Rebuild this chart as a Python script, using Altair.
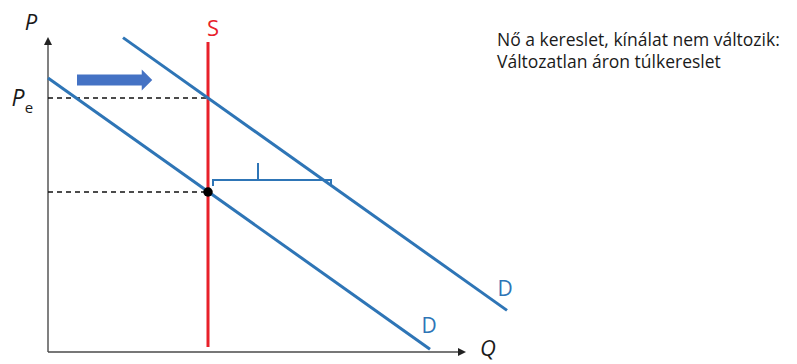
import altair as alt
import pandas as pd

# --- diagram values (quantity Q, price P) ---
supply_q = 4.0                     # vertical supply curve
supply_p = [0.125, 7.75]

demand_old_q = [0.0, 9.55]         # original demand
demand_old_p = [6.85, 0.07]
demand_new_q = [1.875, 11.475]     # shifted demand
demand_new_p = [7.86, 1.04]

price_e = 6.35                     # equilibrium price after the shift
price_old = 4.0                    # old price level (current point)

bracket_q = [4.125, 4.125, 7.075, 7.075]
bracket_p = [4.15, 4.3, 4.3, 4.15]
bracket_tick_q = 5.25
bracket_tick_p = [4.3, 4.725]

shift_arrow_q = [0.725, 2.35]
shift_arrow_p = 6.8
shift_head_q = 2.475

axis_top = 7.7
axis_right = 10.3

note_lines = ["Nő a kereslet, kínálat nem változik:", "Változatlan áron túlkereslet"]
note_p = [7.65, 7.1]
note_q = 11.225

BLUE = "#2E75B6"
RED = "#E8202A"
ARROW = "#4472C4"
AXIS = "#4a4a4a"
FONT = "Open Sans"

xs = alt.Scale(domain=[0, 10], range=[48, 448], nice=False, zero=False)
ys = alt.Scale(domain=[0, 10], range=[352, -48], nice=False, zero=False)


def X(f="q"):
    return alt.X(f"{f}:Q", scale=xs, axis=None)


def Y(f="p"):
    return alt.Y(f"{f}:Q", scale=ys, axis=None)


def segments(rows, **mark):
    df = pd.DataFrame(rows, columns=["q", "p", "q2", "p2"])
    return alt.Chart(df).mark_rule(**mark).encode(
        x=X(), y=Y(), x2="q2:Q", y2="p2:Q"
    )


# axes
axes = segments([[0, 0, 0, axis_top], [0, 0, axis_right, 0]],
                color=AXIS, strokeWidth=1.4)
axis_heads = alt.Chart(pd.DataFrame({
    "q": [0, axis_right + 0.05], "p": [axis_top + 0.075, 0],
    "shape": ["M-1,1 L0,-1 L1,1 Z", "M-1,-1 L1,0 L-1,1 Z"],
})).mark_point(filled=True, color="#222222", opacity=1, size=64).encode(
    x=X(), y=Y(), shape=alt.Shape("shape:N", scale=None)
)

# supply, demand curves
supply = segments([[supply_q, supply_p[0], supply_q, supply_p[1]]],
                  color=RED, strokeWidth=3)
demand = segments([
    [demand_old_q[0], demand_old_p[0], demand_old_q[1], demand_old_p[1]],
    [demand_new_q[0], demand_new_p[0], demand_new_q[1], demand_new_p[1]],
], color=BLUE, strokeWidth=3)

# dashed guides to the price axis
guides = segments([[0, price_e, supply_q, price_e],
                   [0, price_old, supply_q, price_old]],
                  color="#111111", strokeWidth=1.4, strokeDash=[5, 4])

point = alt.Chart(pd.DataFrame({"q": [supply_q], "p": [price_old]})).mark_point(
    filled=True, color="#000000", opacity=1, size=90
).encode(x=X(), y=Y())

# bracket marking excess demand
bracket = alt.Chart(pd.DataFrame({
    "q": bracket_q, "p": bracket_p, "o": list(range(len(bracket_q)))
})).mark_line(color=BLUE, strokeWidth=2).encode(x=X(), y=Y(), order="o:Q")
bracket_tick = segments([[bracket_tick_q, bracket_tick_p[0],
                          bracket_tick_q, bracket_tick_p[1]]],
                        color=BLUE, strokeWidth=2)

# demand shift arrow
arrow_body = segments([[shift_arrow_q[0], shift_arrow_p,
                        shift_arrow_q[1], shift_arrow_p]],
                      color=ARROW, strokeWidth=11, strokeCap="butt")
arrow_head = alt.Chart(pd.DataFrame({"q": [shift_head_q], "p": [shift_arrow_p]})).mark_point(
    filled=True, color=ARROW, opacity=1, size=441,
    shape="M-0.5,-1 L0.5,0 L-0.5,1 Z"
).encode(x=X(), y=Y())


def label(q, p, text, size, color="#1a1a1a", style="normal", align="center"):
    return alt.Chart(pd.DataFrame({"q": [q], "p": [p], "t": [text]})).mark_text(
        font=FONT, fontSize=size, color=color, fontStyle=style,
        align=align, baseline="alphabetic"
    ).encode(x=X(), y=Y(), text="t:N")


labels = [
    label(-0.425, 8.05, "P", 22, style="italic"),
    label(-0.75, 6.15, "P", 23, style="italic"),
    label(-0.475, 5.975, "e", 15),
    label(11.0, -0.1, "Q", 22, style="italic"),
    label(4.125, 7.9, "S", 22, color=RED),
    label(11.425, 1.4, "D", 21, color=BLUE),
    label(9.525, 0.475, "D", 21, color=BLUE),
]
notes = alt.Chart(pd.DataFrame({"q": [note_q] * 2, "p": note_p, "t": note_lines})).mark_text(
    font=FONT, fontSize=17.5, color="#1a1a1a", align="left", baseline="alphabetic"
).encode(x=X(), y=Y(), text="t:N")

chart = alt.layer(
    axes, axis_heads, guides, supply, demand, bracket, bracket_tick,
    arrow_body, arrow_head, point, *labels, notes
).properties(
    width=797, height=364, padding=0,
    autosize=alt.AutoSizeParams(type="none"),
    background="#ffffff",
).configure_view(stroke=None)

chart.save("out.html", embed_options={"renderer": "svg", "actions": False})
